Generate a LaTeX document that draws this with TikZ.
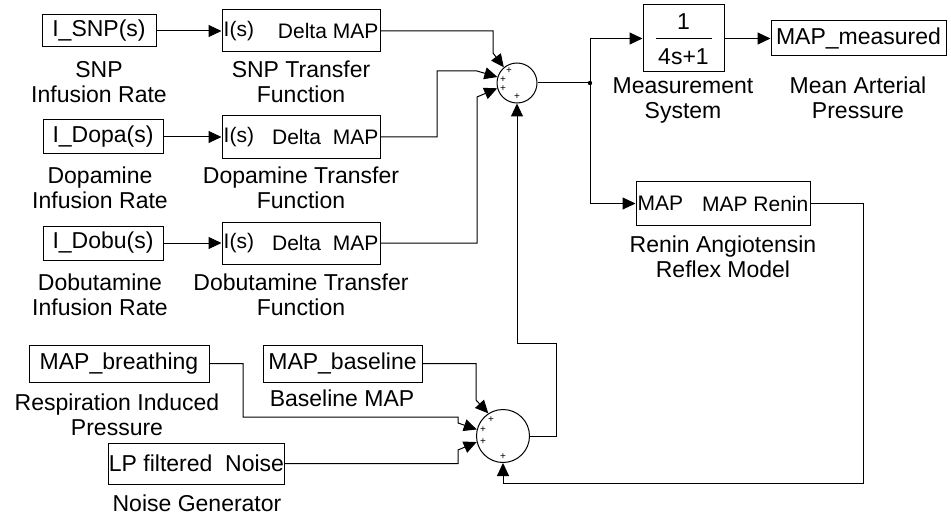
\documentclass[tikz,border=0pt]{standalone}
\usepackage{fontspec}
\setmainfont{Liberation Sans}
\usetikzlibrary{arrows.meta, positioning, calc}

\tikzset{
  blk/.style={draw, line width=1pt, inner sep=0pt, font=\fontsize{23}{25}\selectfont},
  port/.style={inner sep=2pt, font=\fontsize{21}{23}\selectfont},
  lbl/.style={inner sep=0pt, align=center, font=\fontsize{23}{25}\selectfont},
  sumnode/.style={draw, circle, line width=1pt, inner sep=0pt},
  plus/.style={inner sep=0pt, font=\fontsize{10}{10}\selectfont},
  wire/.style={line width=1pt},
  arr/.style={wire, -{Triangle[length=13pt, width=12pt]}}
}

\begin{document}
\begin{tikzpicture}[x=1pt, y=-1pt]
  \useasboundingbox (0,0) rectangle (951,516);

  % infusion inputs
  \node[blk, minimum width=114, minimum height=32] (isnp)  at (99,31)  {I\_SNP(s)};
  \node[blk, minimum width=120, minimum height=34] (idopa) at (103,137) {I\_Dopa(s)};
  \node[blk, minimum width=120, minimum height=34] (idobu) at (103,243) {I\_Dobu(s)};
  \node[lbl] (lsnp)  at (99,82)   {SNP\\Infusion Rate};
  \node[lbl] (ldopa) at (100,188) {Dopamine\\Infusion Rate};
  \node[lbl] (ldobu) at (100,295) {Dobutamine\\Infusion Rate};

  % transfer functions
  \node[blk, minimum width=158, minimum height=42] (tfsnp)  at (301,31)  {};
  \node[blk, minimum width=158, minimum height=43] (tfdopa) at (301,137) {};
  \node[blk, minimum width=158, minimum height=42] (tfdobu) at (301,243) {};
  \node[port, anchor=west] (tfsnpin)   at (tfsnp.west)  {I(s)};
  \node[port, anchor=east] (tfsnpout)  at (tfsnp.east)  {Delta MAP};
  \node[port, anchor=west] (tfdopain)  at (tfdopa.west) {I(s)};
  \node[port, anchor=east] (tfdopaout) at (tfdopa.east) {Delta~~MAP};
  \node[port, anchor=west] (tfdobuin)  at (tfdobu.west) {I(s)};
  \node[port, anchor=east] (tfdobuout) at (tfdobu.east) {Delta~~MAP};
  \node[lbl] (ltfsnp)  at (301,82)  {SNP Transfer\\Function};
  \node[lbl] (ltfdopa) at (301,188) {Dopamine Transfer\\Function};
  \node[lbl] (ltfdobu) at (301,295) {Dobutamine Transfer\\Function};

  % summing junctions
  \node[sumnode, minimum size=40] (sumtop) at (517,83)  {};
  \node[sumnode, minimum size=53] (sumbot) at (503,436) {};
  \foreach \px/\py [count=\k] in {509/71, 503/80, 503/89, 517/97,
                                  491/420, 483/430, 483/442, 503/457}
    \node[plus] (pl\k) at (\px,\py) {+};

  % measurement and renin loop
  \node[blk, minimum width=81, minimum height=67]  (meas)  at (683.5,38.5) {};
  \node[blk, inner sep=0pt, draw=none] (measnum) at (683.5,22) {1};
  \node[blk, inner sep=0pt, draw=none] (measden) at (683.5,57) {4s+1};
  \draw[wire] ($(meas.west)+(13,0)$) -- ($(meas.east)+(-13,0)$);
  \node[blk, minimum width=175, minimum height=35] (mapm)  at (858.5,38.5) {MAP\_measured};
  \node[blk, minimum width=174, minimum height=43] (renin) at (723,203.5) {};
  \node[port, anchor=west] (reninin)  at (renin.west) {MAP};
  \node[port, anchor=east] (reninout) at (renin.east) {MAP Renin};
  \node[lbl] (lmeas)  at (683,100) {Measurement\\System};
  \node[lbl] (lmapm)  at (858,98)  {Mean Arterial\\Pressure};
  \node[lbl] (lrenin) at (723,257) {Renin Angiotensin\\Reflex Model};

  % disturbances
  \node[blk, minimum width=180, minimum height=37] (breath) at (119,363.5)   {MAP\_breathing};
  \node[blk, minimum width=159, minimum height=37] (base)   at (342.5,363.5) {MAP\_baseline};
  \node[blk, minimum width=173, minimum height=41] (noise)  at (196.5,463.5) {LP filtered~~Noise};
  \node[lbl] (lbreath) at (117,415) {Respiration Induced\\Pressure};
  \node[lbl] (lbase)   at (342,398) {Baseline MAP};
  \node[lbl] (lnoise)  at (197,503) {Noise Generator};

  % connectors
  \draw[arr] (isnp) -- (tfsnp);
  \draw[arr] (idopa) -- (tfdopa);
  \draw[arr] (idobu) -- (tfdobu);
  \draw[arr] (tfsnp.east) -| (493,53) -- (sumtop.130);
  \draw[arr] (tfdopa.east) -| (437,71) -- (477,71) -- (sumtop.163);
  \draw[arr] (tfdobu.east) -| (477,97) -- (sumtop.195);
  \draw[arr] (sumbot.east) -| (556,343) -| (sumtop.south);

  \coordinate (jn) at (590,83);
  \draw[wire] (sumtop.east) -- (jn);
  \fill (jn) circle[radius=2.2];
  \draw[arr] (jn) |- (meas.west);
  \draw[arr] (jn) |- (renin.west);
  \draw[arr] (meas) -- (mapm);
  \draw[arr] (renin.east) -| (863,483) -| (sumbot.south);

  \draw[arr] (breath.east) -| (243,417) -| (458,423) -- (sumbot.166);
  \draw[arr] (base.east) -| (476,400) -- (sumbot.123);
  \draw[arr] (noise.east) -| (458,450) -- (sumbot.193);
\end{tikzpicture}
\end{document}
